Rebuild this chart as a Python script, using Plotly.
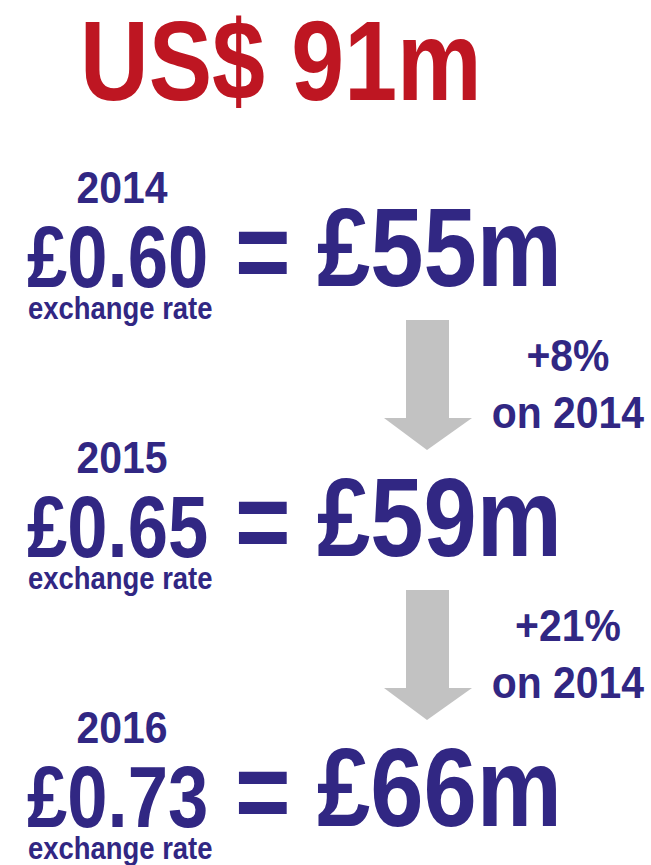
import json
import plotly.graph_objects as go

# ---- data ----
headline = "US$ 91m"
years = ["2014", "2015", "2016"]
rates = ["£0.60", "£0.65", "£0.73"]
gbp_values = ["£55m", "£59m", "£66m"]
changes = ["+8%<br>on 2014", "+21%<br>on 2014"]
rate_caption = "exchange rate"

RED = "#BE1622"
BLUE = "#312783"
GREY = "#C2C2C2"
FONT = "Liberation Sans, Arial, sans-serif"

W, H = 651, 865
row_y0 = 187
row_step = 270

ann = []
squeeze = []   # (horizontal scale, origin) per annotation, applied after render
shapes = []


def add(text, x, y, size, color, xanchor, scale):
    ann.append(dict(x=x, y=y, text=f"<b>{text}</b>", showarrow=False,
                    xanchor=xanchor, yanchor="middle",
                    font=dict(family=FONT, size=size, color=color)))
    squeeze.append([scale, "l" if xanchor == "left" else "c"])


add(headline, 281, 60, 114, RED, "center", 0.834)

for i, (yr, rt, gv) in enumerate(zip(years, rates, gbp_values)):
    base = row_y0 + i * row_step
    add(yr, 122, base, 44, BLUE, "center", 0.93)
    add(rt, 25, base + 69, 88, BLUE, "left", 0.823)
    add("=", 262, base + 64, 112, BLUE, "center", 0.85)
    add(gv, 315, base + 60, 112, BLUE, "left", 0.855)
    add(rate_caption, 120, base + 121, 31, BLUE, "center", 0.885)

for j, ch in enumerate(changes):
    top = 320 + j * row_step
    cx = 427
    path = (f"M {cx-21},{top} L {cx+22},{top} L {cx+22},{top+98} L {cx+45},{top+98} "
            f"L {cx},{top+130} L {cx-43},{top+98} L {cx-21},{top+98} Z")
    shapes.append(dict(type="path", path=path, fillcolor=GREY, line=dict(width=0),
                       xref="x", yref="y", layer="below"))
    add(ch, 568, top + 64, 44, BLUE, "center", 0.93)

fig = go.Figure()
fig.update_layout(
    width=W, height=H,
    margin=dict(l=0, r=0, t=0, b=0),
    paper_bgcolor="white", plot_bgcolor="white",
    xaxis=dict(range=[0, W], visible=False, fixedrange=True),
    yaxis=dict(range=[H, 0], visible=False, fixedrange=True),
    annotations=ann, shapes=shapes, showlegend=False,
)

post = """
document.body.style.margin = '0';
document.body.style.overflow = 'hidden';
var gd = document.getElementById('{plot_id}');
var SQ = __SQ__;
function squeezeText() {
  gd.querySelectorAll('g.annotation').forEach(function (g) {
    var idx = parseInt(g.getAttribute('data-index'), 10);
    var s = SQ[idx];
    if (!s) return;
    var t = g.querySelector('text.annotation-text');
    if (!t) return;
    t.removeAttribute('transform');
    var b = t.getBBox();
    var ox = s[1] === 'l' ? b.x : b.x + b.width / 2;
    t.setAttribute('transform', 'translate(' + (ox * (1 - s[0])) + ',0) scale(' + s[0] + ',1)');
  });
}
squeezeText();
gd.on('plotly_afterplot', squeezeText);
""".replace("__SQ__", json.dumps(squeeze))

fig.write_html("out.html", config={"displayModeBar": False, "responsive": False},
               post_script=post)
